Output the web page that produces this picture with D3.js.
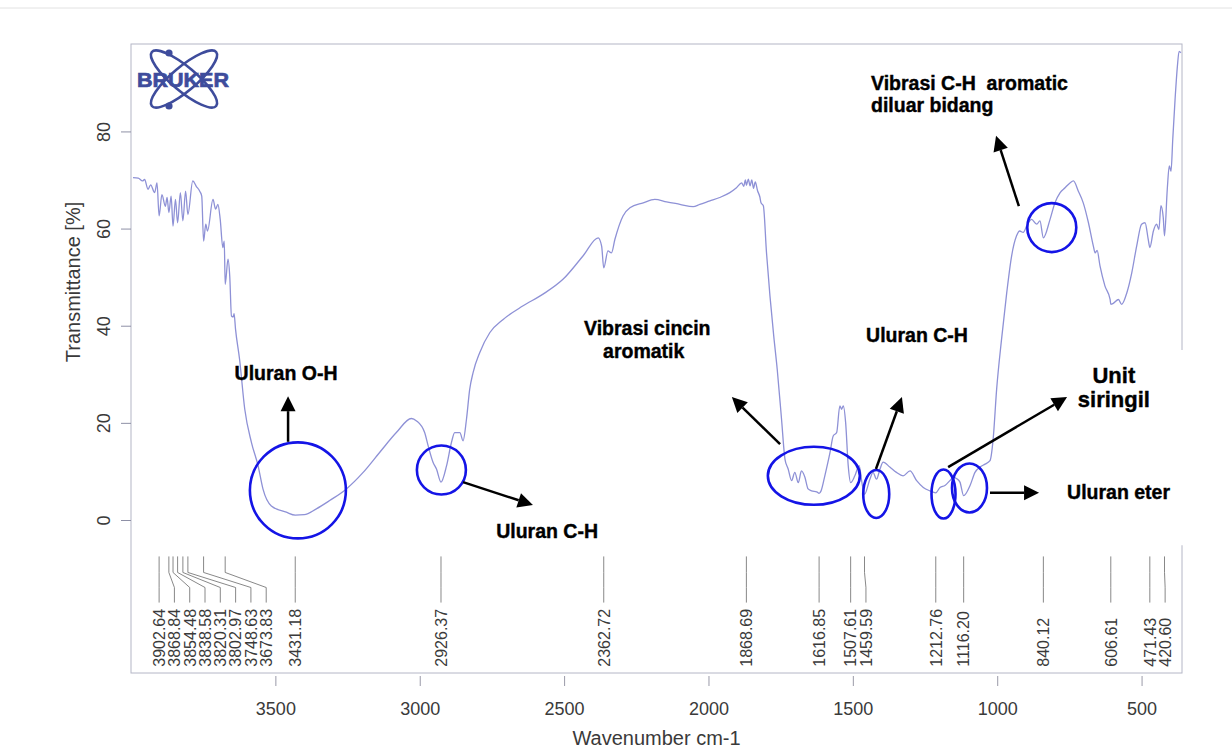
<!DOCTYPE html>
<html>
<head>
<meta charset="utf-8">
<script src="https://cdn.jsdelivr.net/npm/d3@7"></script>
<style>
  body { margin: 0; background: #fff; }
  svg { display: block; font-family: "Liberation Sans", Arial, sans-serif; }
  .note { font-weight: bold; font-size: 19.5px; fill: #000; white-space: pre; stroke: #000; stroke-width: 0.4; }
</style>
</head>
<body>
<div id="chart"></div>
<script>
// spectrum (wavenumber in cm-1, transmittance in %)
const wavenumber = [3993, 3975, 3960, 3953, 3941, 3932, 3918, 3910, 3902.6, 3893, 3881, 3875, 3868.8, 3861, 3854.5, 3846, 3838.6, 3829, 3820.3, 3811, 3803, 3786, 3774, 3762, 3755, 3748.6, 3741, 3735, 3716, 3707, 3699, 3691, 3682, 3677, 3673.8, 3664, 3658, 3652, 3646, 3643, 3638, 3624, 3606, 3583, 3560, 3543, 3514, 3462, 3431, 3400, 3358, 3312, 3254, 3196, 3139, 3081, 3029, 3011, 2983, 2971, 2954, 2942, 2926.4, 2907, 2890, 2879, 2861, 2850, 2838, 2827, 2815, 2792, 2757, 2711, 2642, 2573, 2503, 2434, 2382, 2370, 2362.7, 2348, 2336, 2324, 2296, 2272, 2226, 2186, 2145, 2099, 2053, 2030, 1995, 1961, 1926, 1903, 1885, 1878, 1872, 1868.7, 1862, 1856, 1850, 1844, 1838, 1830, 1822, 1818, 1810, 1799, 1787, 1774, 1762, 1747, 1735, 1724, 1712, 1701, 1689, 1678, 1666, 1655, 1643, 1625, 1616.9, 1610, 1597, 1579, 1568, 1556, 1545, 1539, 1533, 1525, 1516, 1507.6, 1493, 1478, 1468, 1459.6, 1441, 1430, 1418, 1406, 1395, 1372, 1349, 1326, 1302, 1279, 1256, 1233, 1212.8, 1198, 1181, 1164, 1152, 1140, 1129, 1116.2, 1094, 1077, 1060, 1042, 1025, 1014, 1002, 985, 967, 950, 933, 922, 910, 898, 881, 863, 852, 840.1, 817, 800, 782, 765, 748, 736, 719, 702, 684, 667, 661, 654, 644, 627, 609, 606.6, 598, 580, 569, 551, 534, 517, 500, 488, 477, 471.4, 459, 448, 440, 433, 425, 420.6, 411, 404, 398, 392, 384, 376, 370, 364];
const transmittance = [70.5, 70.4, 69.8, 70.1, 68.1, 69.0, 67.4, 69.4, 62.6, 67.0, 64.6, 66.4, 63.3, 66.7, 60.5, 66.0, 61.2, 67.4, 61.6, 67.7, 62.9, 69.8, 68.7, 67.7, 66.7, 57.4, 60.9, 59.5, 66.0, 64.0, 65.0, 61.9, 56.1, 57.4, 48.5, 53.7, 50.2, 42.0, 41.8, 42.5, 39.3, 33.1, 22.8, 16.0, 11.2, 6.4, 2.9, 1.6, 1.0, 1.1, 2.3, 4.0, 6.4, 9.8, 13.9, 18.0, 20.9, 20.4, 18.0, 15.3, 11.9, 10.5, 7.8, 11.2, 16.0, 18.0, 18.0, 16.3, 20.8, 26.9, 30.4, 34.5, 38.6, 41.3, 44.1, 46.5, 49.6, 54.4, 58.1, 56.4, 51.9, 55.4, 55.0, 57.8, 62.6, 64.3, 65.3, 66.0, 65.5, 65.0, 64.5, 65.0, 65.7, 66.4, 67.4, 68.4, 69.4, 68.7, 70.0, 68.9, 70.2, 68.8, 70.0, 68.3, 69.6, 67.8, 66.5, 65.3, 64.7, 55.0, 46.1, 37.9, 31.1, 20.8, 12.5, 10.5, 8.1, 9.8, 7.7, 10.1, 8.8, 6.4, 6.0, 5.8, 5.5, 6.0, 9.1, 13.9, 17.3, 18.0, 23.5, 22.8, 23.5, 20.1, 11.2, 7.7, 9.1, 11.2, 7.5, 5.3, 8.4, 9.8, 8.4, 10.5, 11.9, 10.9, 9.8, 9.1, 10.1, 8.1, 6.7, 6.0, 5.6, 6.7, 7.1, 8.1, 8.8, 8.5, 7.8, 5.0, 7.1, 9.8, 10.9, 11.5, 12.2, 16.7, 26.9, 37.2, 46.8, 54.4, 58.5, 59.5, 59.2, 60.5, 61.9, 60.9, 61.6, 58.1, 61.9, 65.3, 67.4, 68.4, 69.4, 69.8, 67.7, 65.3, 61.2, 56.4, 55.0, 55.5, 52.3, 48.2, 45.4, 44.4, 44.6, 45.4, 44.4, 46.8, 50.9, 56.4, 60.9, 61.2, 57.8, 56.1, 59.5, 60.9, 59.8, 64.7, 62.3, 58.5, 68.1, 72.9, 71.8, 78.4, 86.6, 93.4, 96.5, 96.2];

// picked peaks
const peakWavenumbers = [3902.64, 3868.84, 3854.48, 3838.58, 3820.31, 3802.97, 3748.63, 3673.83, 3431.18, 2926.37, 2362.72, 1868.69, 1616.85, 1507.61, 1459.59, 1212.76, 1116.20, 840.12, 606.61, 471.43, 420.60];

// axis ticks
const xTickValues = [3500, 3000, 2500, 2000, 1500, 1000, 500];
const yTickValues = [0, 20, 40, 60, 80];

// band notes: circled peak (wavenumber, %T)
const ringWavenumber = [3422, 2925, 1635, 1419, 1186, 1096, 811];
const ringTransmittance = [6.1, 10.3, 9.1, 5.35, 5.35, 6.6, 60.2];

let margin, visWidth, visHeight, x, y;

margin = ({ top: 44, right: 50, bottom: 76, left: 131 });
visWidth = 1232 - margin.left - margin.right;
visHeight = 749 - margin.top - margin.bottom;

// x runs high to low like every IR plot
x = d3.scaleLinear().domain([4000, 360]).range([0, visWidth]);
// lower part of the box is left for the peak labels
y = d3.scaleLinear().domain([-31.5, 98]).range([visHeight, 0]);

const svg = d3.select('#chart').append('svg')
    .attr('width', 1232)
    .attr('height', 749);

// faint scan edge at the top
svg.append('line')
    .attr('x1', 0).attr('x2', 1232).attr('y1', 8).attr('y2', 8)
    .attr('stroke', '#e2e2e2');

const g = svg.append('g')
    .attr('transform', `translate(${margin.left}, ${margin.top})`);

// frame
g.append('rect')
    .attr('width', visWidth)
    .attr('height', visHeight)
    .attr('fill', 'none')
    .attr('stroke', '#b4b6c6');

// y axis, ticks only 0..80
const yAxis = g.append('g')
    .call(d3.axisLeft(y).tickValues(yTickValues).tickSize(10).tickFormat(d3.format('d')))
    .call(g => g.select('.domain').remove());
yAxis.selectAll('.tick line').attr('stroke', '#8e90a6');
yAxis.selectAll('.tick text')
    .attr('font-size', 18)
    .attr('fill', '#3a3a3a')
    .attr('transform', 'rotate(-90)')
    .attr('x', 0)
    .attr('y', -21)
    .attr('dy', 0)
    .attr('text-anchor', 'middle');

yAxis.append('text')
    .attr('transform', `translate(-51, ${y(49)}) rotate(-90)`)
    .attr('text-anchor', 'middle')
    .attr('fill', '#3a3a3a')
    .attr('font-size', 20)
    .text('Transmittance [%]');

// x axis sits a little under the frame
const xAxis = g.append('g')
    .attr('transform', `translate(0, ${visHeight + 3})`)
    .call(d3.axisBottom(x).tickValues(xTickValues).tickSize(10).tickPadding(16).tickFormat(d3.format('d')))
    .call(g => g.select('.domain').remove());
xAxis.selectAll('.tick line').attr('stroke', '#9a9aa8');
xAxis.selectAll('.tick text').attr('font-size', 18).attr('fill', '#3a3a3a');

xAxis.append('text')
    .attr('x', visWidth / 2)
    .attr('y', 69)
    .attr('text-anchor', 'middle')
    .attr('fill', '#3a3a3a')
    .attr('font-size', 20)
    .text('Wavenumber cm-1');

// spectrum
const spectrum = wavenumber.map((w, i) => ({ w: w, t: transmittance[i] }));

g.append('clipPath').attr('id', 'box')
    .append('rect').attr('width', visWidth).attr('height', visHeight);

g.append('path')
    .datum(spectrum)
    .attr('clip-path', 'url(#box)')
    .attr('fill', 'none')
    .attr('stroke', '#8e91d6')
    .attr('stroke-width', 1.3)
    .attr('d', d3.line()
        .x(d => x(d.w))
        .y(d => y(d.t))
        .curve(d3.curveMonotoneX));

// peak labels, crowded ones are pushed right with a bent leader
const labelGap = 15.3;
const peaks = peakWavenumbers.map(w => ({ w: w, px: x(w) }));
peaks.forEach((p, i) => {
    p.lx = i === 0 ? p.px : Math.max(p.px, peaks[i - 1].lx + labelGap);
});

const peakG = g.append('g');
peakG.selectAll('path')
    .data(peaks)
    .join('path')
    .attr('fill', 'none')
    .attr('stroke', '#6a6a6a')
    .attr('stroke-width', 0.8)
    .attr('d', d => `M${d.px},${y(-7.5)}V${y(-10.8)}L${d.lx},${y(-13.9)}V${y(-17)}`);

peakG.selectAll('text')
    .data(peaks)
    .join('text')
    .attr('transform', d => `translate(${d.lx + 5.8}, ${y(-30.2)}) rotate(-90)`)
    .attr('font-size', 16)
    .attr('fill', '#3a3a3a')
    .text(d => d.w.toFixed(2));

// BRUKER logo
const logo = svg.append('g').attr('transform', 'translate(184, 79)');
[40, -40].forEach(a => {
    logo.append('ellipse')
        .attr('rx', 42).attr('ry', 12)
        .attr('transform', `rotate(${a})`)
        .attr('fill', 'none')
        .attr('stroke', '#3e4c9c')
        .attr('stroke-width', 2.6);
});
logo.selectAll('circle')
    .data([[-15, -26], [-15, 27]])
    .join('circle')
    .attr('cx', d => d[0]).attr('cy', d => d[1]).attr('r', 3.6)
    .attr('fill', '#3e4c9c');
logo.append('text')
    .attr('x', -47).attr('y', 8)
    .attr('textLength', 92)
    .attr('lengthAdjust', 'spacingAndGlyphs')
    .attr('font-size', 21)
    .attr('font-weight', 'bold')
    .attr('fill', '#3e4c9c')
    .attr('stroke', '#3e4c9c')
    .attr('stroke-width', 0.7)
    .text('BRUKER');

// pasted white box under the right hand notes
g.append('rect')
    .attr('x', x(855))
    .attr('y', y(35))
    .attr('width', visWidth + 15 - x(855))
    .attr('height', y(-5.2) - y(35))
    .attr('fill', '#fff');

// rings round the bands
const ringSize = [[48, 48], [24.5, 24.5], [46, 29], [13, 24], [12, 24.5], [17.5, 24.5], [24.5, 24.5]];
g.selectAll('ellipse.ring')
    .data(ringWavenumber)
    .join('ellipse')
    .attr('class', 'ring')
    .attr('cx', (w, i) => x(w))
    .attr('cy', (w, i) => y(ringTransmittance[i]))
    .attr('rx', (w, i) => ringSize[i][0])
    .attr('ry', (w, i) => ringSize[i][1])
    .attr('fill', 'none')
    .attr('stroke', '#1414e6')
    .attr('stroke-width', 2.6);

// arrows, given in data units: [w1, t1, w2, t2]
const arrows = [
    [3456, 16.1, 3456, 25.5],
    [2850, 7.8, 2608, 3.1],
    [1752, 15.6, 1919, 25.3],
    [1420, 10.5, 1330, 25.3],
    [1170, 10.9, 758, 25.3],
    [1025, 5.6, 855, 5.6],
    [925, 64.6, 1004, 79.1]
];

function arrow(a) {
    const x1 = x(a[0]), y1 = y(a[1]), x2 = x(a[2]), y2 = y(a[3]);
    const len = Math.hypot(x2 - x1, y2 - y1);
    const ux = (x2 - x1) / len, uy = (y2 - y1) / len;
    const head = 15, half = 7.5;
    const bx = x2 - ux * head, by = y2 - uy * head;
    g.append('line')
        .attr('x1', x1).attr('y1', y1).attr('x2', bx).attr('y2', by)
        .attr('stroke', '#000').attr('stroke-width', 2.5);
    g.append('path')
        .attr('d', `M${x2},${y2}L${bx - uy * half},${by + ux * half}L${bx + uy * half},${by - ux * half}Z`)
        .attr('fill', '#000');
}
arrows.forEach(arrow);

// note texts
const notes = [
    { w: 3463, t: 28.8, anchor: 'middle', text: 'Uluran O-H' },
    { w: 2559, t: -3.7, anchor: 'middle', text: 'Uluran C-H' },
    { w: 2431, t: 38.1, anchor: 'start', text: 'Vibrasi cincin' },
    { w: 2365, t: 33.4, anchor: 'start', text: 'aromatik' },
    { w: 1454, t: 36.6, anchor: 'start', text: 'Uluran C-H' },
    { w: 1437, t: 88.5, anchor: 'start', text: 'Vibrasi C-H  aromatic' },
    { w: 1437, t: 84.0, anchor: 'start', text: 'diluar bidang' },
    { w: 758, t: 4.3, anchor: 'start', text: 'Uluran eter' },
    { w: 596, t: 28.2, anchor: 'middle', text: 'Unit', big: true },
    { w: 596, t: 23.3, anchor: 'middle', text: 'siringil', big: true }
];

g.selectAll('text.note')
    .data(notes)
    .join('text')
    .attr('class', 'note')
    .attr('x', d => x(d.w))
    .attr('y', d => y(d.t))
    .attr('text-anchor', d => d.anchor)
    .style('font-size', d => d.big ? '22px' : null)
    .text(d => d.text);
</script>
</body>
</html>
